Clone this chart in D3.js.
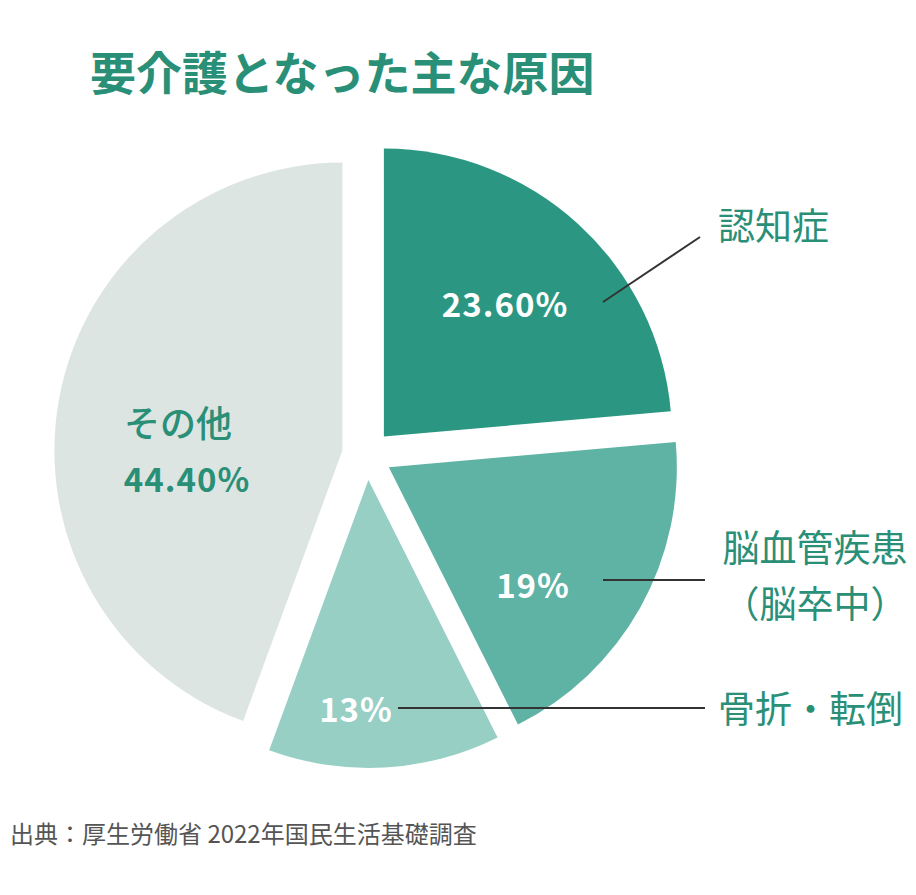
<!DOCTYPE html>
<html><head><meta charset="utf-8">
<script src="https://cdn.jsdelivr.net/npm/d3@7"></script>
<style>body{margin:0;background:#fff}text{font-family:"Noto Sans CJK JP","Noto Sans",sans-serif}</style>
</head><body>
<script>
const categories = ['認知症', '脳血管疾患（脳卒中）', '骨折・転倒', 'その他'];
const values = [23.6, 19, 13, 44.4];
const valueLabels = ['23.60%', '19%', '13%', '44.40%'];
const colors = ['#2b9782', '#5fb3a4', '#97cfc5', '#dde5e3'];

const svg = d3.select('body').append('svg').attr('width', 916).attr('height', 895);

svg.append('text').attr('x', 90).attr('y', 90).attr('font-size', 46).attr('font-weight', 700)
  .attr('fill', '#2a8f77').text('要介護となった主な原因');

const cx = 367, cy = 455, r = 288, off = 25;
const pie = d3.pie().sort(null).value(d => d)(values);
const arc = d3.arc().innerRadius(0).outerRadius(r);
const g = svg.append('g').attr('transform', `translate(${cx},${cy})`);

pie.forEach((p, i) => {
  const m = (p.startAngle + p.endAngle) / 2;
  const dx = Math.sin(m) * off, dy = -Math.cos(m) * off;
  g.append('path').attr('d', arc(p)).attr('fill', colors[i])
    .attr('transform', `translate(${dx},${dy})`);
});

// leader lines
const lines = [[603, 302, 700, 237], [603, 580, 705, 580], [398, 708, 705, 708]];
lines.forEach(l => svg.append('line').attr('x1', l[0]).attr('y1', l[1]).attr('x2', l[2]).attr('y2', l[3])
  .attr('stroke', '#333').attr('stroke-width', 2));

// value labels
const vl = [[505, 317, '#fff'], [533, 598, '#fff'], [356, 722, '#fff'], [187, 492, '#2a8f77']];
vl.forEach((v, i) => svg.append('text').attr('x', v[0]).attr('y', v[1]).attr('text-anchor', 'middle')
  .attr('font-size', 33).attr('font-weight', 700).attr('letter-spacing', 1).attr('fill', v[2]).text(valueLabels[i]));
svg.append('text').attr('x', 178).attr('y', 437).attr('text-anchor', 'middle').attr('font-size', 36)
  .attr('font-weight', 500).attr('fill', '#2a8f77').text(categories[3]);

// category labels
const cat = [[718, 240, 'start', '認知症'], [815, 562, 'middle', '脳血管疾患'], [815, 618, 'middle', '（脳卒中）'], [718, 723, 'start', '骨折・転倒']];
cat.forEach(c => svg.append('text').attr('x', c[0]).attr('y', c[1]).attr('text-anchor', c[2])
  .attr('font-size', 37).attr('fill', '#2a8f77').text(c[3]));

svg.append('text').attr('x', 10).attr('y', 843).attr('font-size', 24).attr('fill', '#555')
  .text('出典：厚生労働省 2022年国民生活基礎調査');
</script>
</body></html>
